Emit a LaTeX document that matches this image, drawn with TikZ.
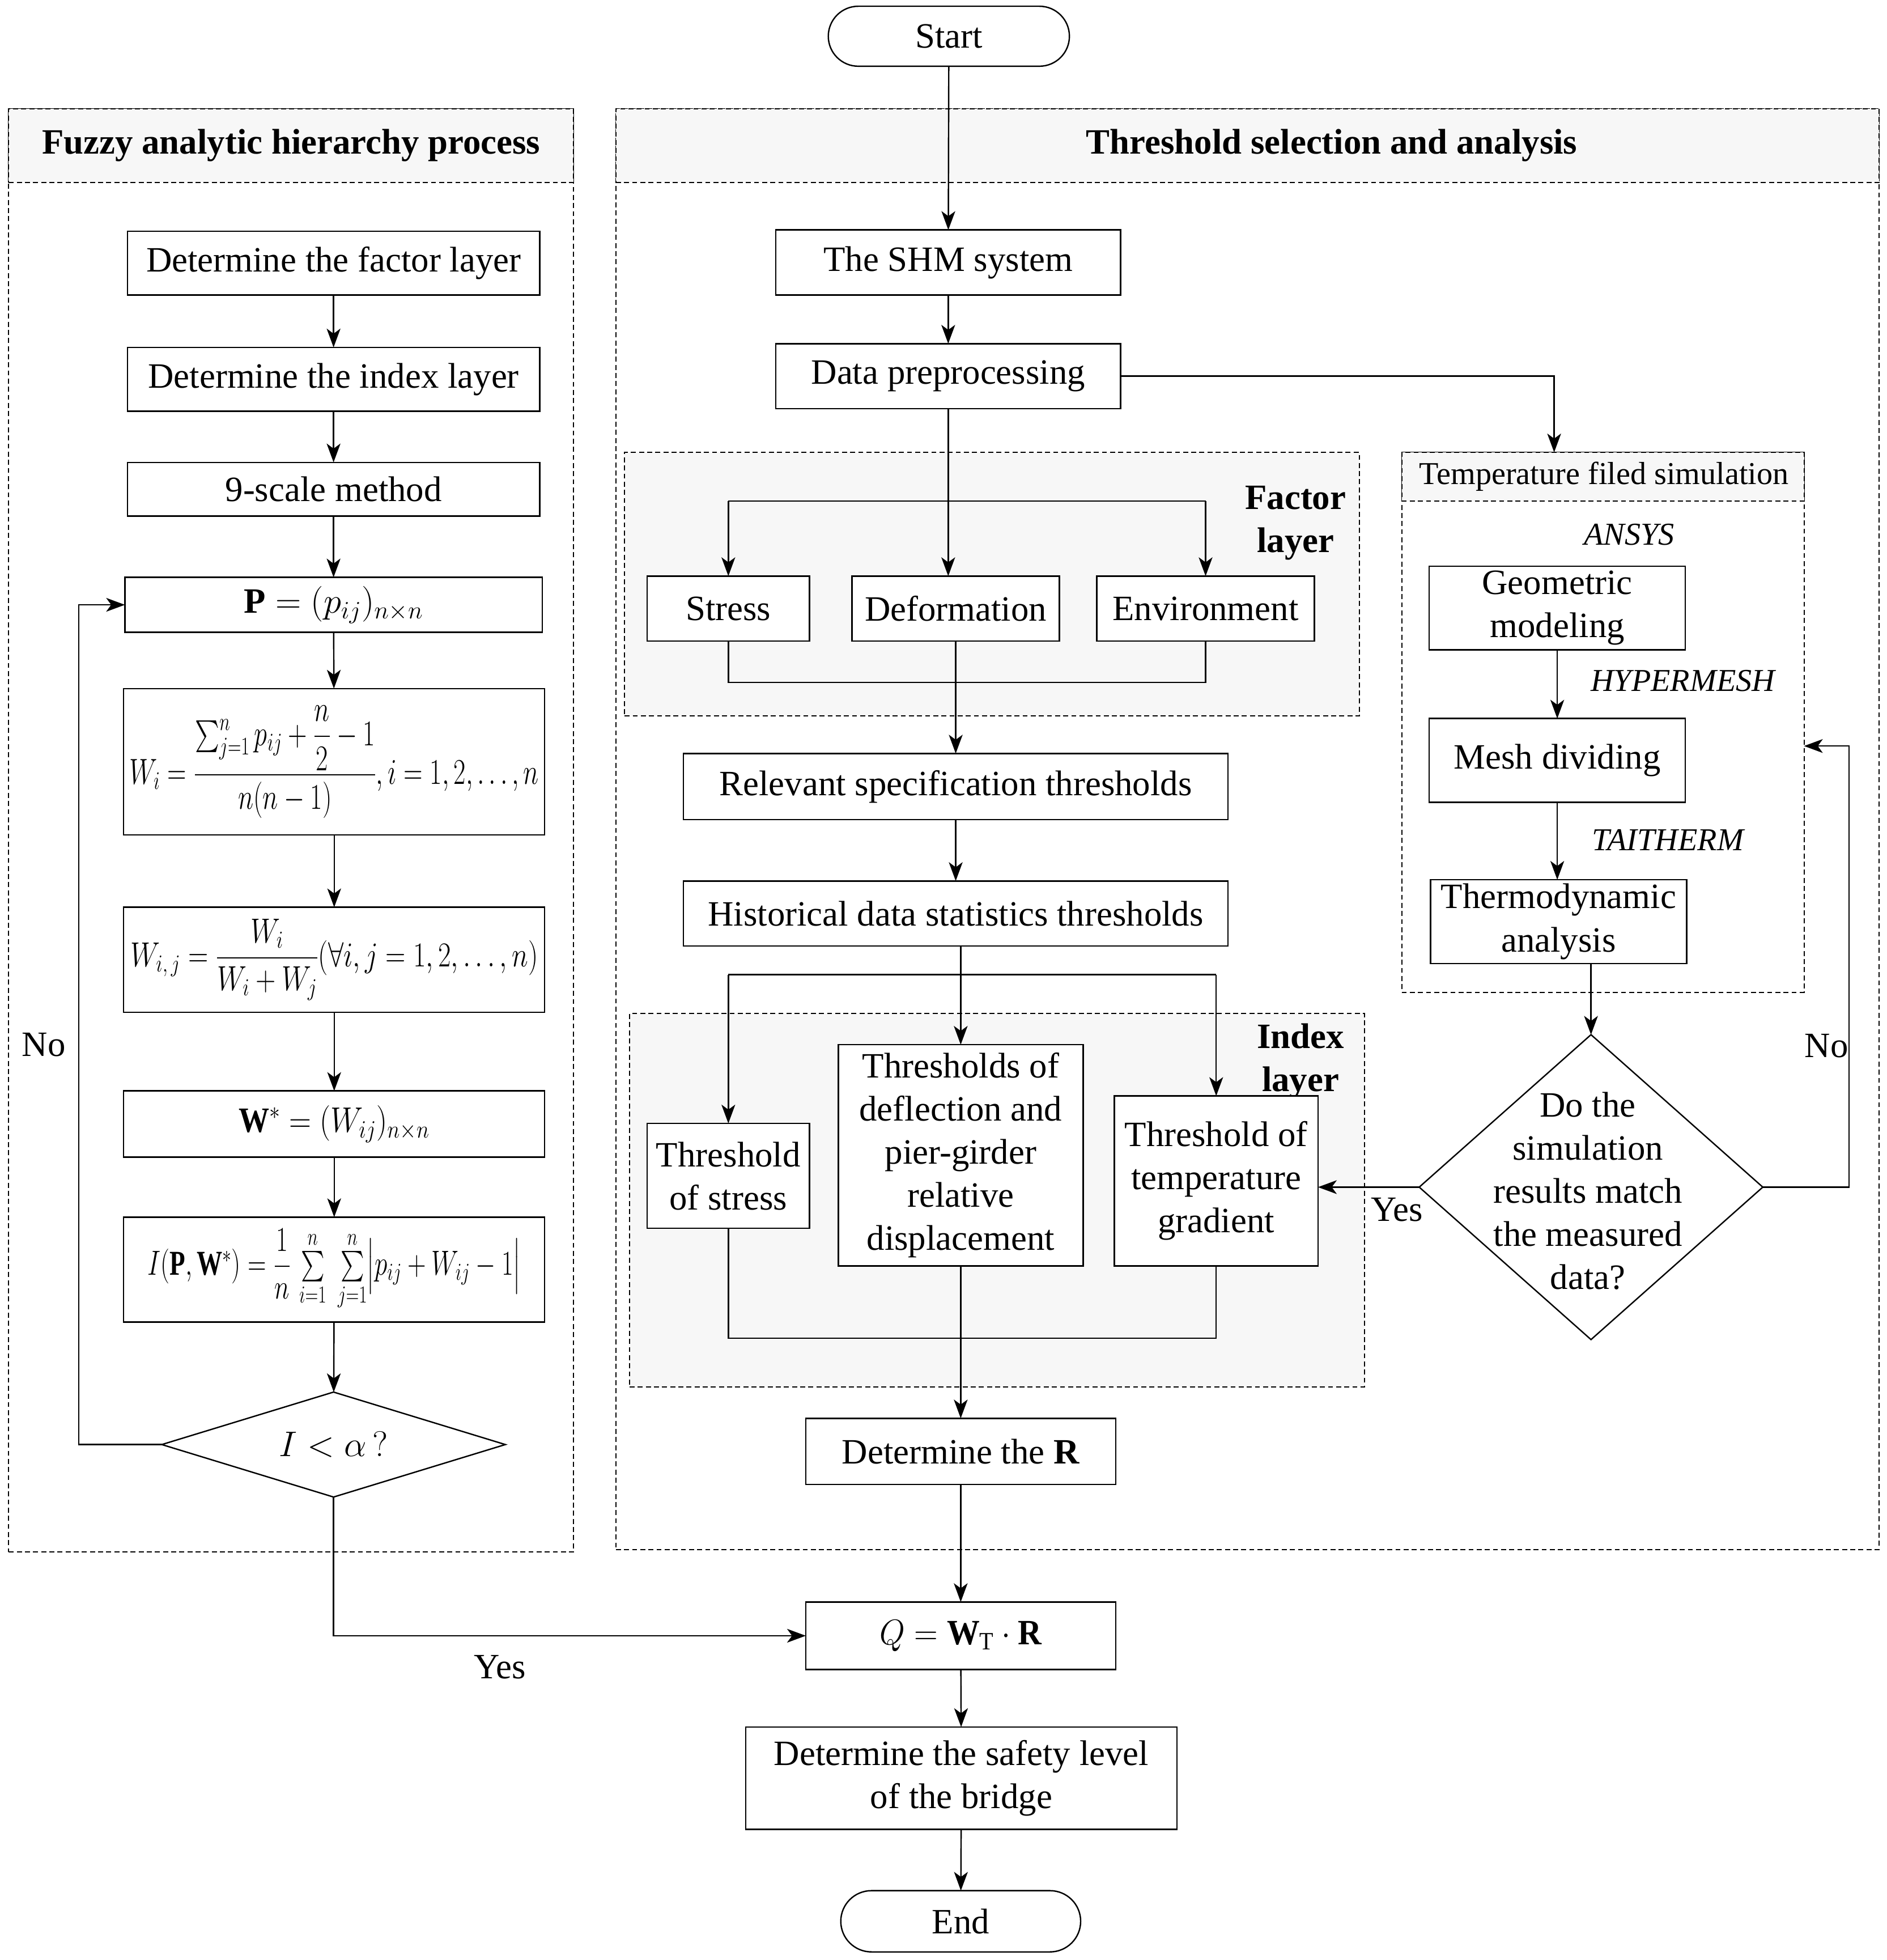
\RequirePackage{fix-cm}
\documentclass[tikz,border=0pt]{standalone}
\usepackage{amsmath}
\usepackage{graphicx}
\usepackage{fontspec}
\setmainfont{Liberation Serif}
\usetikzlibrary{arrows.meta,shapes.geometric,shapes.misc}
\definecolor{panelgray}{HTML}{F7F7F7}
\newcommand{\fsz}{\fontsize{28.5}{34.5}\selectfont}
\newcommand{\fsm}{\fontsize{25.5}{30}\selectfont}
\begin{document}
\begin{tikzpicture}[x=1pt,y=-1pt,
  box/.style={draw, fill=white, line width=1.1pt, inner sep=1pt, align=center, font=\fsz, outer sep=0pt},
  term/.style={box, rounded rectangle},
  dec/.style={diamond, draw, fill=white, line width=1.1pt, inner sep=0pt, outer sep=0pt},
  arr/.style={line width=1.1pt, -{Stealth[length=15pt,width=11pt,inset=4pt]}},
  ln/.style={line width=1.1pt},
  panel/.style={draw, dash pattern=on 4pt off 2.5pt, line width=0.9pt, inner sep=0pt, outer sep=0pt},
  hdr/.style={panel, fill=panelgray},
  lbl/.style={font=\fsz, inner sep=0pt, align=center},
  ital/.style={font=\fsm\itshape, inner sep=0pt},
]
\useasboundingbox (0,0) rectangle (1510,1568.5);
\fill[white] (0,0) rectangle (1510,1568.5);

% panels
\node[panel, minimum width=452pt, minimum height=1155pt] (lpanel) at (233,664.5) {};
\node[hdr, minimum width=452pt, minimum height=59pt] (lhdr) at (233,116.5) {};
\node[lbl, font=\fsz\bfseries] (ltitle) at (233,116.5) {Fuzzy analytic hierarchy process};
\node[panel, minimum width=1011pt, minimum height=1153pt] (rpanel) at (998.5,663.5) {};
\node[hdr, minimum width=1011pt, minimum height=59pt] (rhdr) at (998.5,116.5) {};
\node[lbl, font=\fsz\bfseries] (rtitle) at (1066,116.5) {Threshold selection and analysis};

% group boxes
\node[hdr, minimum width=588pt, minimum height=211pt] (fgroup) at (794,467.5) {};
\node[lbl, font=\fsz\bfseries] (flabel) at (1037,418.5) {Factor\\layer};
\node[hdr, minimum width=588pt, minimum height=299pt] (igroup) at (798,960.5) {};
\node[lbl, font=\fsz\bfseries] (ilabel) at (1041,849.5) {Index\\layer};
\node[panel, fill=white, minimum width=322pt, minimum height=432pt] (tempbox) at (1283,578) {};
\node[hdr, minimum width=322pt, minimum height=39pt] (temphdr) at (1283,381.5) {};
\node[lbl, font=\fsm] (temptitle) at (1284,381.5) {Temperature filed simulation};

% left column
\node[box, minimum width=330pt, minimum height=51pt] (n1) at (267,210.5) {Determine the factor layer};
\node[box, minimum width=330pt, minimum height=51pt] (n2) at (267,303.5) {Determine the index layer};
\node[box, minimum width=330pt, minimum height=43pt] (n3) at (267,391.5) {9-scale method};
\node[box, minimum width=334pt, minimum height=44pt] (n4) at (267,484) {$\mathbf{P}=(p_{ij})_{n\times n}$};
\node[box, minimum width=337pt, minimum height=117pt] (n5) at (267.5,609.5) {\scalebox{0.74}[1.02]{$W_i=\dfrac{\sum\nolimits_{j=1}^{n}p_{ij}+\dfrac{n}{2}-1}{n(n-1)},i=1,2,\ldots,n$}};
\node[box, minimum width=337pt, minimum height=84pt] (n6) at (267.5,768) {\scalebox{0.78}[0.98]{$W_{i,\,j}=\dfrac{W_i}{W_i+W_j}(\forall i,j=1,2,\ldots,n)$}};
\node[box, minimum width=337pt, minimum height=53pt] (n7) at (267.5,899.5) {\scalebox{0.86}[1]{$\mathbf{W}^{*}=(W_{ij})_{n\times n}$}};
\node[box, minimum width=337pt, minimum height=84pt] (n8) at (267.5,1016) {\scalebox{0.72}[0.98]{$I(\mathbf{P},\mathbf{W}^{*})=\dfrac{1}{n}\,\sum\limits_{i=1}^{n}\;\sum\limits_{j=1}^{n}\bigl|p_{ij}+W_{ij}-1\bigr|$}};
\node[dec, minimum width=275pt, minimum height=84pt] (d1) at (267,1156) {};
\node[lbl] (d1t) at (d1) {$I<\alpha\,?$};

% right column
\node[term, minimum width=195pt, minimum height=48pt] (start) at (759.5,29) {Start};
\node[box, minimum width=276pt, minimum height=52pt] (shm) at (759,210) {The SHM system};
\node[box, minimum width=276pt, minimum height=52pt] (dp) at (759,301) {Data preprocessing};
\node[box, minimum width=130pt, minimum height=52pt] (stress) at (583,487) {Stress};
\node[box, minimum width=166pt, minimum height=52pt] (deform) at (765,487) {Deformation};
\node[box, minimum width=174pt, minimum height=52pt] (env) at (965,487) {Environment};
\node[box, minimum width=436pt, minimum height=53pt] (relevant) at (765,629.5) {Relevant specification thresholds};
\node[box, minimum width=436pt, minimum height=52pt] (hist) at (765,731) {Historical data statistics thresholds};
\node[box, minimum width=130pt, minimum height=84pt] (ts) at (583,941) {Threshold\\of stress};
\node[box, minimum width=196pt, minimum height=177pt] (td) at (769,924.5) {Thresholds of\\deflection and\\pier-girder\\relative\\displacement};
\node[box, minimum width=163pt, minimum height=136pt] (tt) at (973.5,945) {Threshold of\\temperature\\gradient};
\node[box, minimum width=248pt, minimum height=53pt] (detR) at (769,1161.5) {Determine the \textbf{R}};
\node[box, minimum width=248pt, minimum height=54pt] (q) at (769,1309) {\scalebox{0.92}[1]{$Q=\mathbf{W}_{\mathrm{T}}\cdot\mathbf{R}$}};
\node[box, minimum width=345pt, minimum height=82pt] (safety) at (769.5,1423) {Determine the safety level\\of the bridge};
\node[term, minimum width=194pt, minimum height=49pt] (end) at (769,1537.5) {End};

% temperature simulation
\node[ital] (ansys) at (1304,428) {ANSYS};
\node[box, minimum width=205pt, minimum height=67pt] (geo) at (1246.5,486.5) {Geometric\\modeling};
\node[ital] (hyper) at (1347,545) {HYPERMESH};
\node[box, minimum width=205pt, minimum height=67pt] (mesh) at (1246.5,608.5) {Mesh dividing};
\node[ital] (taitherm) at (1335,672) {TAITHERM};
\node[box, minimum width=205pt, minimum height=67pt] (thermo) at (1247.5,737.5) {Thermodynamic\\analysis};
\node[dec, minimum width=275pt, minimum height=244pt] (d2) at (1273.5,950) {};
\node[lbl] (d2t) at (1271,953) {Do the\\simulation\\results match\\the measured\\data?};

% labels
\node[lbl] (noL) at (35,836) {No};
\node[lbl] (yesL) at (400,1334) {Yes};
\node[lbl] (yesR) at (1118,968) {Yes};
\node[lbl] (noR) at (1462,837) {No};

% coordinates
\coordinate (lp1) at (63,1156);
\coordinate (tin) at (1244,362);
\coordinate (fbl) at (583,401);
\coordinate (fbr) at (965,401);
\coordinate (fbb) at (583,546);
\coordinate (ibl) at (583,780);
\coordinate (ibr) at (973.5,780);
\coordinate (ibb) at (583,1071);
\coordinate (rn) at (1480,950);
\coordinate (rnend) at (1444,597);

% left connectors
\draw[arr] (n1) -- (n2);
\draw[arr] (n2) -- (n3);
\draw[arr] (n3) -- (n4);
\draw[arr] (n4) -- (n5);
\draw[arr] (n5) -- (n6);
\draw[arr] (n6) -- (n7);
\draw[arr] (n7) -- (n8);
\draw[arr] (n8) -- (d1);
\draw[arr] (d1.west) -- (lp1) |- (n4.west);
\draw[arr] (d1.south) |- (q.west);

% right connectors
\draw[arr] (start) -- (shm);
\draw[arr] (shm) -- (dp);
\draw[arr] (dp.east) -| (tin);
\draw[arr] (dp.south) -- (dp.south |- deform.north);
\draw[ln] (fbl) -- (fbr);
\draw[arr] (fbl) -- (stress.north);
\draw[arr] (fbr) -- (env.north);
\draw[ln] (stress.south) -- (fbb) -| (env.south);
\draw[arr] (deform.south) -- (relevant.north);
\draw[arr] (relevant) -- (hist);
\draw[arr] (hist.south -| td.north) -- (td.north);
\draw[ln] (ibl) -- (ibr);
\draw[arr] (ibl) -- (ts.north);
\draw[arr] (ibr) -- (tt.north);
\draw[ln] (ts.south) -- (ibb) -| (tt.south);
\draw[arr] (td.south) -- (detR.north);
\draw[arr] (detR) -- (q);
\draw[arr] (q) -- (safety);
\draw[arr] (safety) -- (end);

% temperature connectors
\draw[arr] (geo) -- (mesh);
\draw[arr] (mesh) -- (thermo.north -| mesh.south);
\draw[arr] (thermo.south -| d2.north) -- (d2.north);
\draw[arr] (d2.west) -- (tt.east |- d2.west);
\draw[arr] (d2.east) -- (rn) |- (rnend);
\end{tikzpicture}
\end{document}
